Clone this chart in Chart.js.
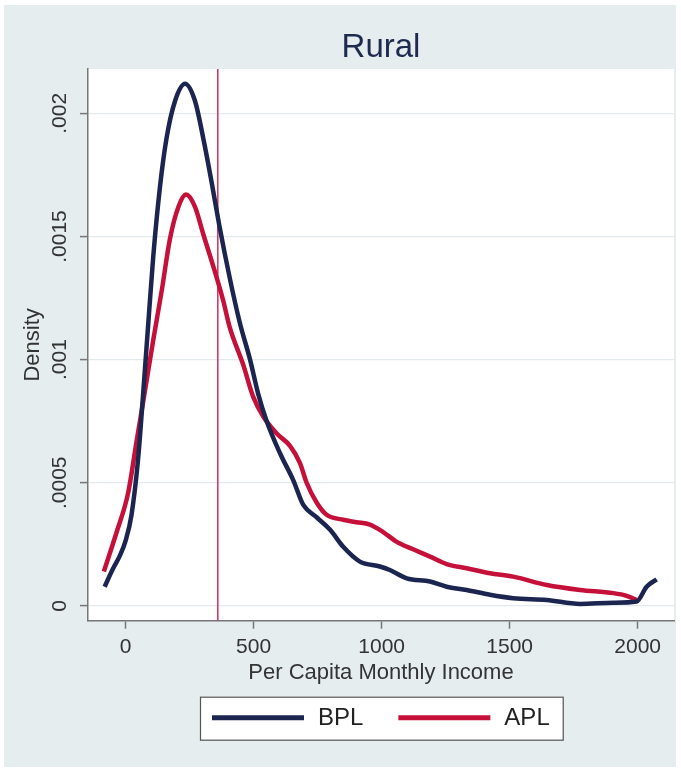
<!DOCTYPE html>
<html>
<head>
<meta charset="utf-8">
<script src="https://cdn.jsdelivr.net/npm/chart.js@4.4.1/dist/chart.umd.min.js"></script>
<style>
  html, body { margin: 0; padding: 0; background: #fff; }
  #wrap { position: absolute; left: 4px; top: 5px; width: 672px; height: 762px; }
  canvas { display: block; }
</style>
</head>
<body>
<div id="wrap"><canvas id="c" width="672" height="762"></canvas></div>
<script>
// kernel density of per capita monthly income
const bplIncome = [-82, -50, -22, 0, 23, 49, 69, 88, 108, 134, 160, 193, 232, 271, 303, 336, 365, 407, 446, 486, 518, 551, 603, 655, 694, 746, 798, 850, 915, 993, 1032, 1098, 1189, 1254, 1332, 1423, 1514, 1645, 1775, 1905, 1996, 2035, 2074];
const bplDensity = [0.000078, 0.000150, 0.000205, 0.000265, 0.00037, 0.00060, 0.00087, 0.00114, 0.00142, 0.00170, 0.00190, 0.00205, 0.00212, 0.00205, 0.00190, 0.00172, 0.00155, 0.00133, 0.00115, 0.00100, 0.00086, 0.00075, 0.00062, 0.00051, 0.00041, 0.00036, 0.00031, 0.00024, 0.00018, 0.000160, 0.000146, 0.000112, 0.000099, 0.000078, 0.000065, 0.000045, 0.000031, 0.000024, 0.000008, 0.000013, 0.000018, 0.000078, 0.000108];

const aplIncome = [-85, -35, 10, 43, 75, 108, 141, 173, 206, 236, 271, 303, 342, 381, 407, 459, 498, 537, 590, 642, 681, 707, 746, 785, 850, 902, 954, 1006, 1059, 1123, 1189, 1254, 1332, 1423, 1514, 1645, 1775, 1905, 1957, 1996];
const aplDensity = [0.000140, 0.000300, 0.00046, 0.00067, 0.00087, 0.00108, 0.00128, 0.00149, 0.00162, 0.00167, 0.00162, 0.00151, 0.00138, 0.00124, 0.00113, 0.00098, 0.00085, 0.00077, 0.00070, 0.00065, 0.00058, 0.00050, 0.00042, 0.00037, 0.00035, 0.00034, 0.00033, 0.00030, 0.00026, 0.00023, 0.00020, 0.00017, 0.000153, 0.000133, 0.000119, 0.000085, 0.000065, 0.000052, 0.000041, 0.000024];

const povertyLine = 360;

const xTicks = [0, 500, 1000, 1500, 2000];
const xTickLabels = ["0", "500", "1000", "1500", "2000"];
const yTicks = [0, 0.0005, 0.001, 0.0015, 0.002];
const yTickLabels = ["0", ".0005", ".001", ".0015", ".002"];

const xMin = -147, xMax = 2142;
const yMin = -0.00006, yMax = 0.00218;

const FONT = "'Liberation Sans', Arial, Helvetica, sans-serif";
const BG = "#e5edef";
const AXIS = "#777777";
const TEXT = "#333333";

const pts = (xs, ys) => xs.map((x, i) => ({ x, y: ys[i] }));

// graph region + white plot region
const bgPlugin = {
  id: "bg",
  beforeDraw(chart) {
    const { ctx, chartArea: a } = chart;
    ctx.save();
    ctx.fillStyle = BG;
    ctx.fillRect(0, 0, chart.width, chart.height);
    ctx.fillStyle = "#ffffff";
    ctx.fillRect(a.left, a.top, a.right - a.left, a.bottom - a.top);
    ctx.restore();
  },
};

// vertical poverty line
const xlinePlugin = {
  id: "xline",
  beforeDatasetsDraw(chart) {
    const { ctx, chartArea: a } = chart;
    const px = chart.scales.x.getPixelForValue(povertyLine);
    ctx.save();
    ctx.strokeStyle = "#cf3d63";
    ctx.lineWidth = 1.6;
    ctx.beginPath();
    ctx.moveTo(px, a.top);
    ctx.lineTo(px, a.bottom);
    ctx.stroke();
    ctx.restore();
  },
};

// y tick labels, rotated like stata does
const yLabelPlugin = {
  id: "ylabels",
  afterDraw(chart) {
    const { ctx } = chart;
    const s = chart.scales.y;
    ctx.save();
    ctx.fillStyle = TEXT;
    ctx.font = "21px " + FONT;
    ctx.textAlign = "center";
    ctx.textBaseline = "middle";
    yTicks.forEach((v, i) => {
      ctx.save();
      ctx.translate(s.right - 28, s.getPixelForValue(v));
      ctx.rotate(-Math.PI / 2);
      ctx.fillText(yTickLabels[i], 0, 0);
      ctx.restore();
    });
    ctx.restore();
  },
};

// boxed legend under the axis title
const legendPlugin = {
  id: "boxlegend",
  afterDraw(chart) {
    const { ctx, chartArea: a } = chart;
    const ds = chart.data.datasets;
    ctx.save();
    ctx.font = "24px " + FONT;
    const lineLen = 92, gap = 14, spacing = 35, padL = 12, padR = 13;
    let w = padL + padR;
    ds.forEach((d, i) => {
      w += lineLen + gap + ctx.measureText(d.label).width;
      if (i < ds.length - 1) w += spacing;
    });
    const h = 43;
    const left = Math.round((a.left + a.right) / 2 - w / 2);
    const top = chart.scales.x.bottom + 6;
    ctx.fillStyle = "#ffffff";
    ctx.fillRect(left, top, w, h);
    ctx.strokeStyle = "#555555";
    ctx.lineWidth = 1.2;
    ctx.strokeRect(left + 0.5, top + 0.5, w, h);
    let x = left + padL;
    ds.forEach((d) => {
      ctx.strokeStyle = d.borderColor;
      ctx.lineWidth = 5;
      ctx.beginPath();
      ctx.moveTo(x, top + 21);
      ctx.lineTo(x + lineLen, top + 21);
      ctx.stroke();
      x += lineLen + gap;
      ctx.fillStyle = "#222222";
      ctx.textAlign = "left";
      ctx.textBaseline = "middle";
      ctx.fillText(d.label, x, top + 22);
      x += ctx.measureText(d.label).width + spacing;
    });
    ctx.restore();
  },
};

new Chart(document.getElementById("c"), {
  type: "line",
  data: {
    datasets: [
      {
        label: "BPL",
        data: pts(bplIncome, bplDensity),
        borderColor: "#1b2550",
        borderWidth: 4.5,
        pointRadius: 0,
        fill: false,
        cubicInterpolationMode: "monotone",
      },
      {
        label: "APL",
        data: pts(aplIncome, aplDensity),
        borderColor: "#c5103a",
        borderWidth: 4.5,
        pointRadius: 0,
        fill: false,
        cubicInterpolationMode: "monotone",
      },
    ],
  },
  options: {
    responsive: false,
    animation: false,
    layout: { padding: { left: 0, right: 2, top: 0, bottom: 76.3 } },
    plugins: {
      legend: { display: false },
      tooltip: { enabled: false },
      title: {
        display: true,
        text: "Rural",
        fullSize: false,
        color: "#1e2a4e",
        font: { family: FONT, size: 33, weight: "normal" },
        padding: { top: 22.7, bottom: 1.7 },
      },
    },
    scales: {
      x: {
        type: "linear",
        min: xMin,
        max: xMax,
        afterBuildTicks: (s) => { s.ticks = xTicks.map((v) => ({ value: v })); },
        afterFit: (s) => { s.height = 70; },
        ticks: {
          color: TEXT,
          font: { family: FONT, size: 21 },
          padding: 6,
          maxRotation: 0,
          callback: (v, i) => xTickLabels[i],
        },
        grid: { drawOnChartArea: false, tickLength: 8, tickColor: AXIS, tickWidth: 1.5 },
        border: { color: AXIS, width: 1.5 },
        title: {
          display: true,
          text: "Per Capita Monthly Income",
          color: TEXT,
          font: { family: FONT, size: 22 },
          padding: { top: 0, bottom: 5 },
        },
      },
      y: {
        type: "linear",
        min: yMin,
        max: yMax,
        afterBuildTicks: (s) => { s.ticks = yTicks.map((v) => ({ value: v })); },
        afterFit: (s) => { s.width = 84; },
        ticks: { display: false },
        grid: { color: "#e2eaed", lineWidth: 1.2, tickLength: 8, tickColor: AXIS, tickWidth: 1.5 },
        border: { color: AXIS, width: 1.5 },
        title: {
          display: true,
          text: "Density",
          color: TEXT,
          font: { family: FONT, size: 22 },
          padding: { top: 16, bottom: 0 },
        },
      },
    },
  },
  plugins: [bgPlugin, xlinePlugin, yLabelPlugin, legendPlugin],
});
</script>
</body>
</html>
